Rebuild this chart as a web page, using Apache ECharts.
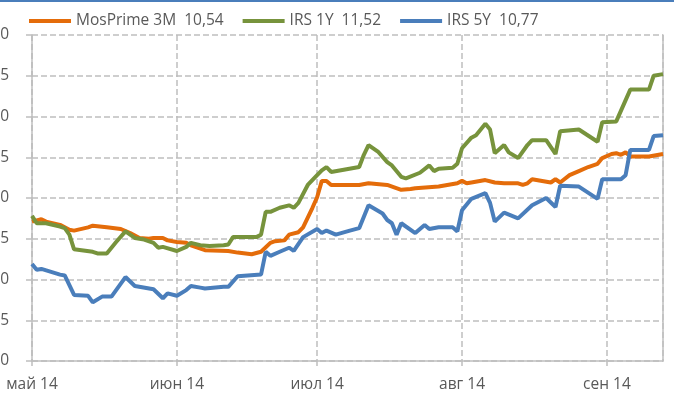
<!DOCTYPE html>
<html>
<head>
<meta charset="utf-8">
<script src="https://cdn.jsdelivr.net/npm/echarts@6.0.0/dist/echarts.min.js"></script>
<style>
  html, body { margin: 0; padding: 0; background: #fff; overflow: hidden; }
  /* холст сдвинут влево: подписи оси Y частично уходят за край, как в оригинале */
  #chart { position: absolute; left: -30px; top: 0; width: 704px; height: 406px; }
</style>
</head>
<body>
<div id="chart"></div>
<script>
// подписи месяцев на оси X
var monthLabels = ['янв', 'фев', 'мар', 'апр', 'май', 'июн', 'июл', 'авг', 'сен', 'окт', 'ноя', 'дек'];
var seriesNames = ['MosPrime 3M  10,54', 'IRS 1Y  11,52', 'IRS 5Y  10,77'];

// MosPrime 3M
var mosDates = ['2014-05-01','2014-05-03','2014-05-04','2014-05-07','2014-05-09','2014-05-10','2014-05-13','2014-05-14','2014-05-17','2014-05-20',
  '2014-05-22','2014-05-24','2014-05-26','2014-05-27','2014-05-29','2014-05-30','2014-06-01','2014-06-03','2014-06-04','2014-06-07',
  '2014-06-12','2014-06-14','2014-06-17','2014-06-19','2014-06-21','2014-06-22','2014-06-24','2014-06-25','2014-06-27','2014-06-28',
  '2014-06-30','2014-07-01','2014-07-02','2014-07-03','2014-07-04','2014-07-10','2014-07-12','2014-07-16','2014-07-19','2014-07-21',
  '2014-07-22','2014-07-27','2014-07-31','2014-08-01','2014-08-02','2014-08-03','2014-08-06','2014-08-08','2014-08-10','2014-08-13',
  '2014-08-14','2014-08-15','2014-08-16','2014-08-20','2014-08-21','2014-08-22','2014-08-24','2014-08-26','2014-08-28','2014-08-30',
  '2014-08-31','2014-09-02','2014-09-03','2014-09-04','2014-09-05','2014-09-06','2014-09-10','2014-09-13'];
var mosValues = [9.71,9.74,9.71,9.67,9.61,9.60,9.64,9.66,9.64,9.62,
  9.57,9.51,9.50,9.51,9.51,9.48,9.46,9.45,9.42,9.36,
  9.35,9.33,9.31,9.34,9.45,9.47,9.48,9.55,9.58,9.64,
  9.88,10.01,10.21,10.21,10.16,10.16,10.18,10.16,10.10,10.11,
  10.12,10.14,10.18,10.21,10.18,10.19,10.22,10.19,10.18,10.18,
  10.16,10.18,10.23,10.19,10.23,10.19,10.28,10.33,10.38,10.42,
  10.49,10.54,10.55,10.53,10.56,10.51,10.51,10.54];

// IRS 1Y
var irs1Dates = ['2014-05-01','2014-05-02','2014-05-04','2014-05-07','2014-05-08','2014-05-09','2014-05-10','2014-05-14','2014-05-15','2014-05-17',
  '2014-05-19','2014-05-21','2014-05-23','2014-05-25','2014-05-27','2014-05-28','2014-05-29','2014-06-01','2014-06-03','2014-06-04',
  '2014-06-06','2014-06-08','2014-06-11','2014-06-12','2014-06-13','2014-06-18','2014-06-19','2014-06-20','2014-06-21','2014-06-23',
  '2014-06-25','2014-06-26','2014-06-27','2014-06-29','2014-07-01','2014-07-02','2014-07-03','2014-07-04','2014-07-10','2014-07-11',
  '2014-07-12','2014-07-14','2014-07-16','2014-07-17','2014-07-19','2014-07-20','2014-07-23','2014-07-25','2014-07-26','2014-07-27',
  '2014-07-30','2014-07-31','2014-08-01','2014-08-03','2014-08-04','2014-08-06','2014-08-07','2014-08-08','2014-08-10','2014-08-11',
  '2014-08-13','2014-08-15','2014-08-16','2014-08-19','2014-08-21','2014-08-22','2014-08-26','2014-08-30','2014-08-31','2014-09-03',
  '2014-09-06','2014-09-10','2014-09-11','2014-09-13'];
var irs1Values = [9.78,9.69,9.69,9.65,9.63,9.55,9.37,9.34,9.32,9.32,
  9.46,9.59,9.51,9.49,9.45,9.39,9.40,9.35,9.40,9.45,
  9.42,9.41,9.42,9.43,9.52,9.52,9.55,9.83,9.83,9.88,
  9.91,9.88,9.94,10.16,10.28,10.34,10.38,10.32,10.38,10.53,
  10.65,10.57,10.44,10.40,10.26,10.24,10.31,10.40,10.33,10.36,
  10.37,10.42,10.61,10.74,10.77,10.91,10.84,10.55,10.65,10.56,
  10.49,10.65,10.71,10.71,10.54,10.82,10.84,10.69,10.93,10.94,
  11.33,11.33,11.50,11.52];

// IRS 5Y
var irs5Dates = ['2014-05-01','2014-05-02','2014-05-03','2014-05-07','2014-05-08','2014-05-10','2014-05-13','2014-05-14','2014-05-16','2014-05-18',
  '2014-05-21','2014-05-23','2014-05-27','2014-05-29','2014-05-30','2014-06-01','2014-06-03','2014-06-04','2014-06-06','2014-06-07',
  '2014-06-11','2014-06-12','2014-06-14','2014-06-19','2014-06-20','2014-06-21','2014-06-23','2014-06-25','2014-06-26','2014-06-28',
  '2014-07-01','2014-07-02','2014-07-03','2014-07-05','2014-07-08','2014-07-10','2014-07-12','2014-07-15','2014-07-16','2014-07-17',
  '2014-07-18','2014-07-19','2014-07-22','2014-07-24','2014-07-25','2014-07-27','2014-07-30','2014-07-31','2014-08-01','2014-08-03',
  '2014-08-06','2014-08-07','2014-08-08','2014-08-10','2014-08-13','2014-08-16','2014-08-19','2014-08-21','2014-08-22','2014-08-26',
  '2014-08-30','2014-08-31','2014-09-04','2014-09-05','2014-09-06','2014-09-10','2014-09-11','2014-09-13'];
var irs5Values = [9.19,9.12,9.13,9.06,9.05,8.81,8.80,8.72,8.79,8.79,
  9.03,8.92,8.88,8.77,8.83,8.80,8.87,8.92,8.90,8.89,
  8.91,8.91,9.04,9.06,9.34,9.29,9.34,9.39,9.35,9.52,
  9.62,9.57,9.60,9.55,9.60,9.63,9.91,9.81,9.73,9.69,
  9.55,9.69,9.57,9.67,9.62,9.64,9.64,9.59,9.85,9.99,
  10.06,9.94,9.71,9.82,9.75,9.91,10.00,9.89,10.15,10.14,
  9.99,10.23,10.23,10.28,10.59,10.59,10.76,10.77];

var colors = ['#E46C0A', '#77933C', '#4A7EBB'];

function zip(dates, values) {
    var out = [];
    for (var i = 0; i < dates.length; i++) {
        out.push([dates[i], values[i]]);
    }
    return out;
}

var gridColor = '#BFBFBF';
var textColor = '#595959';
var font = 'Open Sans';
var shift = 30; // на сколько холст выходит за левый край окна

var myChart = echarts.init(document.getElementById('chart'));

var option = {
    animation: false,
    textStyle: { fontFamily: font },
    color: colors,
    graphic: [{
        type: 'rect',
        shape: { x: 0, y: 0, width: 704, height: 2 },
        style: { fill: '#4A7EBB' }
    }],
    legend: {
        top: 8,
        left: 24 + shift,
        itemWidth: 42,
        itemHeight: 4,
        itemGap: 19,
        icon: 'rect',
        textStyle: { color: textColor, fontSize: 15.5, fontFamily: font },
        data: seriesNames
    },
    grid: { left: 32 + shift, right: 11, top: 35, bottom: 45 },
    xAxis: {
        type: 'time',
        min: '2014-05-01',
        max: '2014-09-13',
        minInterval: 28 * 24 * 3600 * 1000,
        maxInterval: 31 * 24 * 3600 * 1000,
        axisLine: { show: true, lineStyle: { color: gridColor, width: 1.5 } },
        axisTick: { show: true, length: 5, lineStyle: { color: gridColor, width: 1.5 } },
        axisLabel: {
            color: textColor,
            fontSize: 15.5,
            fontFamily: font,
            margin: 16,
            showMaxLabel: false,
            formatter: function (value) {
                var d = new Date(value);
                if (d.getDate() !== 1) return '';
                return monthLabels[d.getMonth()] + ' ' + String(d.getFullYear()).slice(2);
            }
        },
        splitLine: { show: true, lineStyle: { color: gridColor, width: 1.5, type: 'dashed' } }
    },
    yAxis: [{
        type: 'value',
        min: 8,
        max: 12,
        interval: 0.5,
        axisLine: { show: true, lineStyle: { color: gridColor, width: 1.5 } },
        axisTick: { show: true, length: 6, lineStyle: { color: gridColor, width: 1.5 } },
        axisLabel: {
            color: textColor,
            fontSize: 15.5,
            fontFamily: font,
            margin: 23,
            formatter: function (v) { return v.toFixed(1).replace('.', ','); }
        },
        splitLine: { show: true, lineStyle: { color: gridColor, width: 1.5, type: 'dashed' } }
    }, {
        type: 'value',
        position: 'right',
        min: 8,
        max: 12,
        interval: 0.5,
        axisLine: { show: true, onZero: false, lineStyle: { color: gridColor, width: 1.5 } },
        axisTick: { show: false },
        axisLabel: { show: false },
        splitLine: { show: false }
    }],
    series: [
        {
            name: seriesNames[0],
            type: 'line',
            data: zip(mosDates, mosValues),
            symbol: 'none',
            lineStyle: { width: 4 }
        },
        {
            name: seriesNames[1],
            type: 'line',
            data: zip(irs1Dates, irs1Values),
            symbol: 'none',
            lineStyle: { width: 4 }
        },
        {
            name: seriesNames[2],
            type: 'line',
            data: zip(irs5Dates, irs5Values),
            symbol: 'none',
            lineStyle: { width: 4 }
        }
    ]
};

myChart.setOption(option);
</script>
</body>
</html>
